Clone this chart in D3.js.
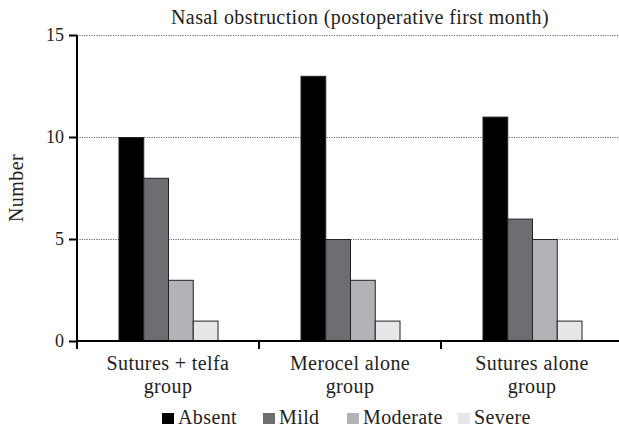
<!DOCTYPE html>
<html><head><meta charset="utf-8">
<script src="https://cdn.jsdelivr.net/npm/d3@7"></script>
<style>body{margin:0;background:#fff}svg{display:block}</style>
</head><body><svg id="c" width="619" height="430"></svg>
<script>
const categories = [["Sutures + telfa","group"],["Merocel alone","group"],["Sutures alone","group"]];
const categoryKeys = ["Sutures + telfa group","Merocel alone group","Sutures alone group"];
const seriesNames = ["Absent","Mild","Moderate","Severe"];
const absent = [10,13,11];
const mild = [8,5,6];
const moderate = [3,3,5];
const severe = [1,1,1];
const yTicks = [0,5,10,15];
const colors = ["#000000","#6d6e71","#b1b3b6","#e6e7e8"];
const title = "Nasal obstruction (postoperative first month)";
const yLabel = "Number";

const FONT = "'Liberation Serif'";
const series = [absent, mild, moderate, severe];
const svg = d3.select("#c");
const x = d3.scaleBand().domain(categoryKeys).range([77, 623]).paddingInner(0.456).paddingOuter(0.228);
const xs = d3.scaleBand().domain(seriesNames).range([0, x.bandwidth()]);
const y = d3.scaleLinear().domain([0,15]).range([341,35]);

function txt(sel, size){
  return sel.style("font-family",FONT).style("font-size",size+"px").style("letter-spacing","0.4px").attr("fill","#222");
}

// gridlines
svg.append("g").selectAll("line").data(yTicks.filter(d=>d>0)).join("line")
  .attr("x1",77).attr("x2",619).attr("y1",d=>y(d)+0.5).attr("y2",d=>y(d)+0.5)
  .attr("stroke","#444").attr("stroke-width",0.8).attr("stroke-dasharray","1.2,1.2");

// bars
categoryKeys.forEach((c,i)=>{
  svg.append("g").selectAll("rect").data(seriesNames).join("rect")
    .attr("x",s=>x(c)+xs(s)+0.5).attr("width",xs.bandwidth())
    .attr("y",(s,j)=>y(series[j][i])+0.5).attr("height",(s,j)=>y(0)-y(series[j][i]))
    .attr("fill",(s,j)=>colors[j]).attr("stroke","#222").attr("stroke-width",1);
});

// y axis
const ya = svg.append("g").attr("transform","translate(77,0)")
  .call(d3.axisLeft(y).tickValues(yTicks).tickSize(8).tickPadding(5));
ya.attr("font-family",FONT).attr("font-size",18);
ya.select(".domain").attr("stroke","#000").attr("stroke-width",2).attr("d","M0,"+y(15)+"V"+(y(0)+8));
ya.selectAll(".tick line").attr("stroke","#000").attr("stroke-width",2);
txt(ya.selectAll(".tick text"),18).style("letter-spacing","0px");

// x axis
svg.append("line").attr("x1",76).attr("x2",619).attr("y1",y(0)).attr("y2",y(0)).attr("stroke","#000").attr("stroke-width",2);
const bounds = categoryKeys.map(c=>x(c)-x.step()*x.paddingInner()/2);
svg.append("g").selectAll("line").data(bounds).join("line")
  .attr("x1",d=>d).attr("x2",d=>d).attr("y1",y(0)).attr("y2",y(0)+8).attr("stroke","#000").attr("stroke-width",2);

// category labels
categoryKeys.forEach((c,i)=>{
  const t = txt(svg.append("text").attr("text-anchor","middle"),20);
  categories[i].forEach((ln,k)=>t.append("tspan").attr("x",x(c)+x.bandwidth()/2).attr("y",370+k*23).text(ln));
});

// title
txt(svg.append("text").attr("x",360).attr("y",24).attr("text-anchor","middle"),20).text(title);
// y label
txt(svg.append("text").attr("transform","translate(23,188) rotate(-90)").attr("text-anchor","middle"),20).text(yLabel);

// legend
const legX = [162,263,347,458];
const lg = svg.append("g").selectAll("g").data(seriesNames).join("g").attr("transform",(d,i)=>`translate(${legX[i]},413)`);
lg.append("rect").attr("width",12).attr("height",11).attr("fill",(d,i)=>colors[i]);
txt(lg.append("text").attr("x",16).attr("y",11),20).text(d=>d);
</script></body></html>
